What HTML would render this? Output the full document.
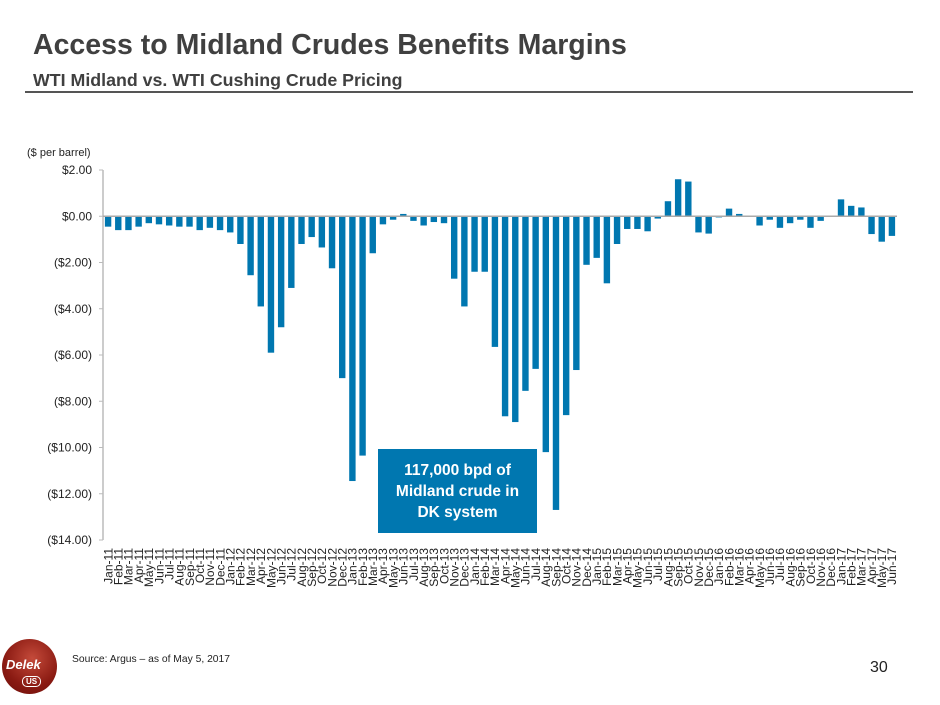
<!DOCTYPE html>
<html><head><meta charset="utf-8">
<style>
body{margin:0;width:940px;height:705px;background:#fff;position:relative;overflow:hidden;font-family:"Liberation Sans",sans-serif;}
.t{position:absolute;white-space:nowrap;}
</style></head>
<body>
<div class="t" style="left:33px;top:29px;font-size:28.5px;font-weight:bold;color:#404040;">Access to Midland Crudes Benefits Margins</div>
<div class="t" style="left:33px;top:70px;font-size:17.8px;font-weight:bold;color:#404040;">WTI Midland vs. WTI Cushing Crude Pricing</div>
<div style="position:absolute;left:25px;top:91px;width:888px;height:2px;background:#555;"></div>
<div class="t" style="left:27px;top:147px;font-size:11px;color:#222;">($ per barrel)</div>
<svg id="chart" width="940" height="705" style="position:absolute;left:0;top:0;"></svg>
<div style="position:absolute;left:378px;top:449px;width:159px;height:84px;background:#0077b0;color:#fff;font-weight:bold;font-size:15.5px;line-height:21px;text-align:center;display:flex;align-items:center;justify-content:center;">117,000 bpd of<br>Midland crude in<br>DK system</div>
<div style="position:absolute;left:2px;top:639px;width:55px;height:55px;border-radius:50%;background:radial-gradient(circle at 55% 35%,#c44a3a,#8a1a12 60%,#6a0e0a);"></div>
<div class="t" style="left:6px;top:657px;font-size:13px;font-weight:bold;color:#fff;font-style:italic;">Delek</div>
<div class="t" style="left:22px;top:676px;font-size:8px;font-weight:bold;color:#fff;border:1px solid #fff;border-radius:5px;padding:0 3px;">US</div>
<div class="t" style="left:72px;top:654px;font-size:10.3px;color:#222;">Source:  Argus – as of May 5, 2017</div>
<div class="t" style="left:870px;top:659px;font-size:16px;color:#222;">30</div>
<script>
const categories=["Jan-11","Feb-11","Mar-11","Apr-11","May-11","Jun-11","Jul-11","Aug-11","Sep-11","Oct-11","Nov-11","Dec-11","Jan-12","Feb-12","Mar-12","Apr-12","May-12","Jun-12","Jul-12","Aug-12","Sep-12","Oct-12","Nov-12","Dec-12","Jan-13","Feb-13","Mar-13","Apr-13","May-13","Jun-13","Jul-13","Aug-13","Sep-13","Oct-13","Nov-13","Dec-13","Jan-14","Feb-14","Mar-14","Apr-14","May-14","Jun-14","Jul-14","Aug-14","Sep-14","Oct-14","Nov-14","Dec-14","Jan-15","Feb-15","Mar-15","Apr-15","May-15","Jun-15","Jul-15","Aug-15","Sep-15","Oct-15","Nov-15","Dec-15","Jan-16","Feb-16","Mar-16","Apr-16","May-16","Jun-16","Jul-16","Aug-16","Sep-16","Oct-16","Nov-16","Dec-16","Jan-17","Feb-17","Mar-17","Apr-17","May-17","Jun-17"];
const values=[-0.45,-0.6,-0.6,-0.45,-0.3,-0.35,-0.4,-0.45,-0.45,-0.6,-0.5,-0.6,-0.7,-1.2,-2.55,-3.9,-5.9,-4.8,-3.1,-1.2,-0.9,-1.35,-2.25,-7.0,-11.45,-10.35,-1.6,-0.35,-0.15,0.1,-0.2,-0.4,-0.25,-0.3,-2.7,-3.9,-2.4,-2.4,-5.65,-8.65,-8.9,-7.55,-6.6,-10.2,-12.7,-8.6,-6.65,-2.1,-1.8,-2.9,-1.2,-0.55,-0.55,-0.65,-0.1,0.65,1.6,1.5,-0.7,-0.75,-0.05,0.33,0.1,0.02,-0.4,-0.15,-0.5,-0.3,-0.15,-0.5,-0.2,0,0.73,0.45,0.38,-0.77,-1.1,-0.85];
const tickValues=[2,0,-2,-4,-6,-8,-10,-12,-14];
const tickLabels=["$2.00","$0.00","($2.00)","($4.00)","($6.00)","($8.00)","($10.00)","($12.00)","($14.00)"];
const NS="http://www.w3.org/2000/svg";
const svg=document.getElementById('chart');
const X0=103,X1=897,Y0=170,Y1=540,VMAX=2,VMIN=-14;
const y=v=>Y0+(VMAX-v)/(VMAX-VMIN)*(Y1-Y0);
const band=(X1-X0)/categories.length;
const xc=i=>X0+band*(i+0.5);
function mk(tag,attrs){const e=document.createElementNS(NS,tag);for(const k in attrs)e.setAttribute(k,attrs[k]);svg.appendChild(e);return e;}
const ax=mk('line',{x1:X0,x2:X0,y1:Y0,y2:Y1,stroke:'#bbb','stroke-width':1.5});


tickValues.forEach((v,i)=>{
  const tk=mk('line',{x1:X0-4,x2:X0,y1:y(v),y2:y(v),stroke:'#bbb'});
  
  
  const t=mk('text',{x:92,y:y(v)+4,'text-anchor':'end','font-size':12,fill:'#222','font-family':'Liberation Sans, sans-serif'});
  t.textContent=tickLabels[i];
  
  
});
values.forEach((v,i)=>{
  const top=Math.min(y(v),y(0)),h=Math.abs(y(v)-y(0));
  const r=mk('rect',{x:xc(i)-3.2,y:top,width:6.4,height:Math.max(h,0.5),fill:'#0077b0'});
  
  
  const t=mk('text',{transform:`translate(${xc(i)+4.3},548) rotate(-90)`,'text-anchor':'end','font-size':12,fill:'#222','font-family':'Liberation Sans, sans-serif'});
  t.textContent=categories[i];
  
  
});
const zl=mk('line',{x1:X0,x2:X1,y1:y(0),y2:y(0),stroke:'#aaa','stroke-width':1.5});


</script>
</body></html>
